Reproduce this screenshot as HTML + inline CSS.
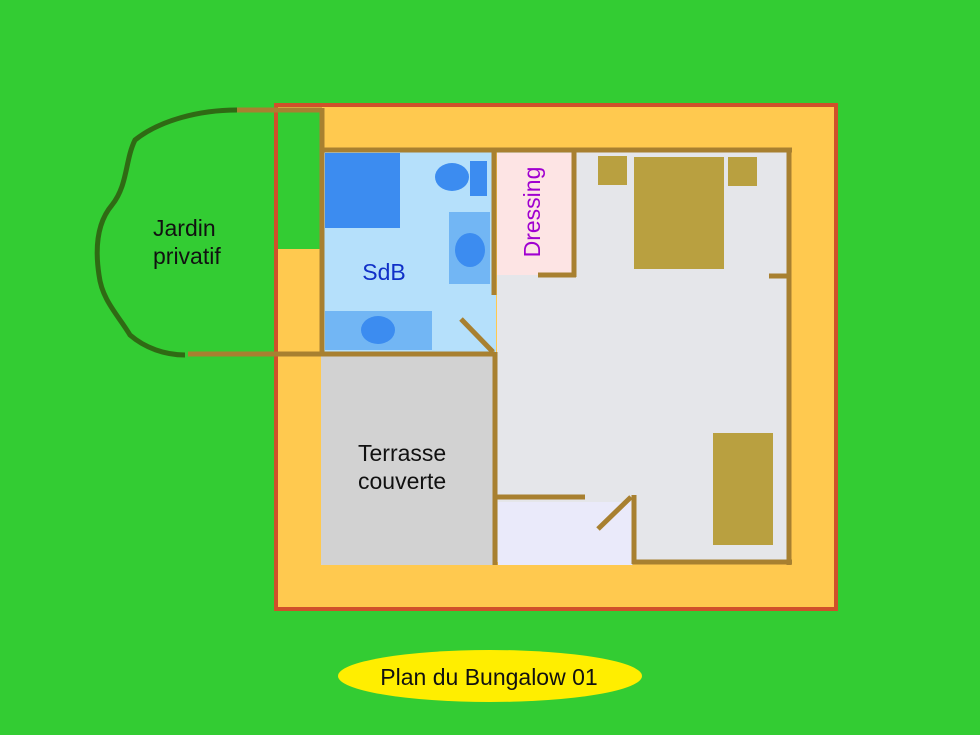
<!DOCTYPE html>
<html><head><meta charset="utf-8"><style>
html,body{margin:0;padding:0;background:#33cc33;}
svg{display:block;}
text{font-family:"Liberation Sans",sans-serif;}
</style></head><body>
<svg width="980" height="735" viewBox="0 0 980 735" xmlns="http://www.w3.org/2000/svg">
<rect width="980" height="735" fill="#33cc33"/>
<!-- outer -->
<rect x="276" y="105" width="560" height="504" fill="#ffc94f" stroke="#d0502a" stroke-width="4"/>
<rect x="278" y="110" width="43" height="139" fill="#33cc33"/>
<!-- rooms -->
<rect x="497" y="152" width="292" height="410" fill="#e5e6ea"/>
<rect x="324" y="152" width="172" height="201" fill="#b5e0fb"/>
<rect x="497" y="153" width="75" height="122" fill="#fde4e4"/>
<rect x="321" y="356" width="173" height="209" fill="#d2d2d2"/>
<rect x="498" y="502" width="135" height="63" fill="#eaeafa"/>
<!-- fixtures -->
<rect x="325" y="153" width="75" height="75" fill="#3c8cf0"/>
<ellipse cx="452" cy="177" rx="17" ry="14" fill="#3c8cf0"/>
<rect x="470" y="161" width="17" height="35" fill="#3c8cf0"/>
<rect x="449" y="212" width="41" height="72" fill="#72b6f4"/>
<ellipse cx="470" cy="250" rx="15" ry="17" fill="#3c8cf0"/>
<rect x="325" y="311" width="107" height="39" fill="#72b6f4"/>
<ellipse cx="378" cy="330" rx="17" ry="14" fill="#3c8cf0"/>
<!-- furniture -->
<rect x="634" y="157" width="90" height="112" fill="#b9a040"/>
<rect x="598" y="156" width="29" height="29" fill="#b9a040"/>
<rect x="728" y="157" width="29" height="29" fill="#b9a040"/>
<rect x="713" y="433" width="60" height="112" fill="#b9a040"/>
<!-- walls -->
<g stroke="#a88030" stroke-width="5" fill="none">
<line x1="320" y1="150" x2="792" y2="150"/>
<line x1="789" y1="148" x2="789" y2="565"/>
<line x1="632" y1="562" x2="792" y2="562"/>
<line x1="634" y1="495" x2="634" y2="564"/>
<line x1="322" y1="108" x2="322" y2="356"/>
<line x1="274" y1="110" x2="322" y2="110"/>
<line x1="188" y1="354" x2="322" y2="354"/>
<line x1="320" y1="354" x2="495" y2="354"/>
<line x1="494" y1="150" x2="494" y2="295"/>
<line x1="495" y1="352" x2="495" y2="565"/>
<line x1="574" y1="150" x2="574" y2="277"/>
<line x1="538" y1="275" x2="576" y2="275"/>
<line x1="769" y1="276" x2="789" y2="276"/>
<line x1="497" y1="497" x2="585" y2="497"/>
<line x1="461" y1="319" x2="493" y2="352"/>
<line x1="598" y1="529" x2="631" y2="497"/>
</g>
<line x1="237" y1="110" x2="274" y2="110" stroke="#a88030" stroke-width="5"/>
<!-- garden outline -->
<path d="M237,110 C200,110 160,120 135,140 C125,160 128,185 112,205 C95,225 96,255 99,275 C102,300 118,315 130,335 C145,348 165,355 185,355" fill="none" stroke="#2f6a14" stroke-width="5"/>
<!-- labels -->
<text x="153" y="236" font-size="23" fill="#111">Jardin</text>
<text x="153" y="264" font-size="23" fill="#111">privatif</text>
<text x="384" y="280" font-size="23" text-anchor="middle" fill="#1030c8">SdB</text>
<text transform="translate(540,212) rotate(-90)" font-size="23" text-anchor="middle" fill="#a000d0">Dressing</text>
<text x="358" y="461" font-size="23" fill="#111">Terrasse</text>
<text x="358" y="489" font-size="23" fill="#111">couverte</text>
<ellipse cx="490" cy="676" rx="152" ry="26" fill="#ffee00"/>
<text x="489" y="685" font-size="23" text-anchor="middle" fill="#111">Plan du Bungalow 01</text>
</svg>
</body></html>
